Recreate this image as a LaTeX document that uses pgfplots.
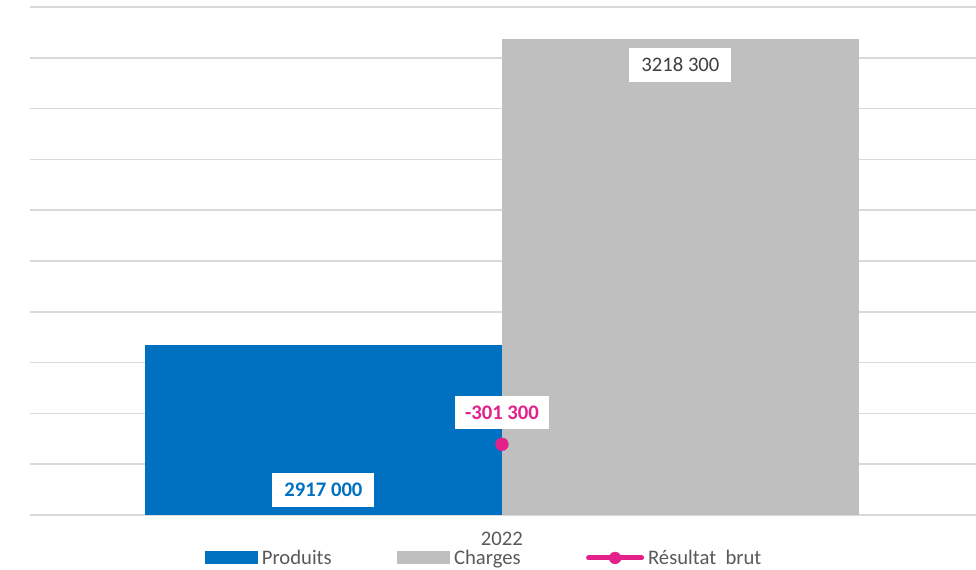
\documentclass[border=0pt]{standalone}
\usepackage{fontspec}
\setmainfont{Carlito}
\usepackage{pgfplots}
\pgfplotsset{compat=1.18}
\definecolor{blueC}{HTML}{0070C0}
\definecolor{grayC}{HTML}{BFBFBF}
\definecolor{magC}{HTML}{E2218A}
\definecolor{gridC}{HTML}{D9D9D9}
\definecolor{txtC}{HTML}{595959}
\definecolor{lblC}{HTML}{404040}
\begin{document}
\begin{tikzpicture}
\useasboundingbox (-22.5pt,-41.25pt) rectangle (709.5pt,386.25pt);
\begin{axis}[
  at={(0,0)}, anchor=south west,
  scale only axis, width=709.5pt, height=381pt,
  xmin=-1.322, xmax=1.328,
  ymin=2750000, ymax=3250000,
  ytick={2750000,2800000,...,3250000},
  yticklabel=\empty,
  ymajorgrids, grid style={gridC, line width=1.1pt},
  major tick length=0pt,
  axis line style={draw=none},
  xtick={0}, xticklabels={2022},
  xticklabel style={text=txtC, font=\fontsize{15.5}{18}\selectfont, yshift=-9.5pt},
  legend columns=3,
  legend style={at={(axis description cs:0.479,-0.0846)}, anchor=center,
    draw=none, fill=none, font=\fontsize{15.5}{18}\selectfont, text=txtC,
    nodes={inner sep=0pt},
    /tikz/every odd column/.append style={column sep=3pt},
    /tikz/every even column/.append style={column sep=49pt}},
  legend cell align=left,
  clip=true,
]
\addplot[ybar, bar width=1, bar shift=0pt, fill=blueC, draw=none,
  legend image code/.code={\fill[blueC] (0pt,-4.9pt) rectangle (39.75pt,4.9pt);}]
  coordinates {(-0.5,2917000)};
\addlegendentry{Produits}
\addplot[ybar, bar width=1, bar shift=0pt, fill=grayC, draw=none,
  legend image code/.code={\fill[grayC] (0pt,-4.9pt) rectangle (39.75pt,4.9pt);}]
  coordinates {(0.5,3218300)};
\addlegendentry{Charges}
\addlegendimage{legend image code/.code={\draw[magC, line width=3.8pt, line cap=round] (0pt,0pt) -- (39.75pt,0pt); \fill[magC] (19.9pt,0pt) circle (4.4pt);}}
\addlegendentry{Résultat~~brut}
\node[fill=white, text=lblC, font=\fontsize{15.5}{18}\selectfont, minimum width=76.5pt, minimum height=26pt, inner sep=0pt]
  at (axis cs:0.5,3192900) {3218 300};
\node[fill=white, text=blueC, font=\bfseries\fontsize{15.5}{18}\selectfont, minimum width=76.5pt, minimum height=25.5pt, inner sep=0pt]
  at (axis cs:-0.5,2774600) {2917 000};
\end{axis}
\begin{axis}[
  at={(0,0)}, anchor=south west,
  scale only axis, width=709.5pt, height=381pt,
  xmin=-1.322, xmax=1.328,
  ymin=-350000, ymax=0,
  hide axis, clip=false,
]
\addplot[magC, mark=*, mark size=4.8pt, only marks] coordinates {(0,-301300)};
\node[fill=white, text=magC, font=\bfseries\fontsize{15.5}{18}\selectfont, minimum width=70pt, minimum height=24.75pt, inner sep=0pt]
  at (axis cs:0,-279700) {-301 300};
\end{axis}
\end{tikzpicture}
\end{document}
